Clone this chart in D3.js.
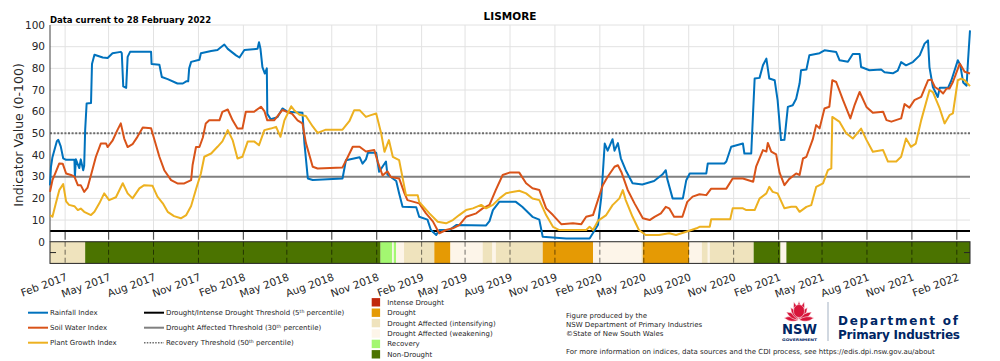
<!DOCTYPE html>
<html>
<head>
<meta charset="utf-8">
<script src="https://cdn.jsdelivr.net/npm/d3@7"></script>
<style>
    body { margin: 0; background: #fff; }
    svg { font-family: "DejaVu Sans", sans-serif; }
    .grid line { stroke: #e2e2e2; stroke-width: 1; }
    .tick-label { font-size: 10.5px; fill: #262626; }
    .legend-text { font-size: 7px; fill: #262626; }
</style>
</head>
<body>
<div id="chart"></div>
<script>
// index values (date, value 0-100)
const rainfallIndex = [
    ["2017-01-01",26],["2017-01-03",34.6],["2017-01-06",39],["2017-01-15",46.4],["2017-01-18",47],["2017-01-23",44],["2017-01-28",38.5],["2017-02-03",37.8],["2017-02-20",37.8],["2017-02-21",30],["2017-02-23",38],["2017-03-02",34],["2017-03-05",38],["2017-03-10",33],["2017-03-12",35],["2017-03-14",51.5],["2017-03-17",63.8],["2017-03-26",64],["2017-03-28",82],["2017-04-02",86.3],["2017-04-19",85],["2017-04-29",84.8],["2017-05-09",87],["2017-05-26",87.6],["2017-05-28",87],["2017-05-31",71.7],["2017-06-06",71],["2017-06-09",85.3],["2017-06-14",87.6],["2017-07-27",87.6],["2017-07-28",82],["2017-08-13",81.7],["2017-08-18",76],["2017-08-30",75],["2017-09-19",73],["2017-09-30",73],["2017-10-07",74],["2017-10-11",74],["2017-10-13",80],["2017-10-17",83],["2017-11-03",84],["2017-11-06",87],["2017-11-27",88],["2017-12-10",88.5],["2017-12-24",91],["2017-12-31",89],
    ["2018-01-17",86],["2018-01-24",85],["2018-02-03",88.5],["2018-03-02",89],["2018-03-05",92],["2018-03-08",89],["2018-03-12",80.6],["2018-03-17",77.6],["2018-03-21",80],["2018-03-22",59],["2018-03-29",56.5],["2018-04-12",57.5],["2018-04-22",61.5],["2018-05-02",60],["2018-06-02",59.5],["2018-06-06",45.5],["2018-06-13",29.2],["2018-06-23",28.5],["2018-08-23",29.2],["2018-08-30",37.6],["2018-09-27",39],["2018-10-03",36],["2018-10-10",38],["2018-10-14",41],["2018-10-31",41],["2018-11-06",32.3],["2018-11-20",37],["2018-11-23",31],["2018-12-11",28],["2018-12-17",22.3],["2018-12-24",16.1],
    ["2019-01-21",15.9],["2019-01-27",11.5],["2019-02-13",10.2],["2019-02-20",5.4],["2019-03-03",3.1],["2019-03-09",5.4],["2019-03-30",5.4],["2019-04-13",7.7],["2019-06-13",7.5],["2019-06-20",9.5],["2019-06-27",14.6],["2019-07-10",18.4],["2019-08-13",18.4],["2019-08-26",16.1],["2019-09-16",11.5],["2019-09-30",10.2],["2019-10-07",2.3],["2019-11-24",1.5],
    ["2020-01-11",1.5],["2020-01-18",4],["2020-01-28",7.7],["2020-02-04",20.7],["2020-02-11",45.3],["2020-02-17",42],["2020-02-27",47.3],["2020-03-02",42],["2020-03-09",45.5],["2020-03-15",38.5],["2020-03-25",33],["2020-04-08",27],["2020-04-28",26.4],["2020-05-22",28],["2020-06-08",31],["2020-06-15",33],["2020-06-18",29],["2020-06-29",20],["2020-07-20",20],["2020-07-27",28.4],["2020-08-03",31.5],["2020-09-06",31.5],["2020-09-09",36.1],["2020-10-13",36.1],["2020-10-17",37],["2020-10-27",43.8],["2020-11-20",45.3],["2020-11-23",40.7],["2020-12-07",40.7],["2020-12-11",60.7],["2020-12-14",75.3],["2020-12-24",75.6],["2020-12-31",81.4],
    ["2021-01-07",84.5],["2021-01-13",75.3],["2021-01-24",74.5],["2021-01-30",65.3],["2021-02-06",46.9],["2021-02-13",47],["2021-02-20",62.2],["2021-03-02",63],["2021-03-09",66],["2021-03-16",73],["2021-03-19",79.1],["2021-03-30",79.5],["2021-04-05",86],["2021-04-26",87],["2021-05-06",88.3],["2021-05-30",87.5],["2021-06-06",83.7],["2021-06-23",83],["2021-07-03",86.6],["2021-07-17",86.6],["2021-07-20",80.6],["2021-08-06",79.1],["2021-08-30",79.5],["2021-09-06",78.2],["2021-09-23",77.7],["2021-10-03",79],["2021-10-10",82.9],["2021-10-20",81.4],["2021-11-03",82.9],["2021-11-17",86],["2021-11-27",91.4],["2021-12-04",92.9],["2021-12-07",80.6],["2021-12-14",71.4],["2021-12-24",66.8],["2021-12-28",71],
    ["2022-01-14",71],["2022-01-21",74.5],["2022-02-03",83.7],["2022-02-08",81.6],["2022-02-14",73.5],["2022-02-21",72],["2022-02-24",83.7],["2022-02-28",97.5]
];

const soilWaterIndex = [
    ["2017-01-01",23],["2017-01-06",28.4],["2017-01-13",32.2],["2017-01-20",36.1],["2017-01-27",36],["2017-02-03",31.5],["2017-02-13",30.8],["2017-02-20",30],["2017-02-27",26.1],["2017-03-05",26.1],["2017-03-12",23],["2017-03-19",25],["2017-03-26",30.8],["2017-04-05",39.2],["2017-04-15",45.3],["2017-04-26",45.3],["2017-04-29",43.7],["2017-05-09",46.6],["2017-05-19",51.5],["2017-05-26",54.6],["2017-06-02",47.6],["2017-06-09",43.7],["2017-06-19",45],["2017-06-29",48.4],["2017-07-10",52.7],["2017-07-27",52.4],["2017-08-03",46.9],["2017-08-13",39.2],["2017-08-23",33],["2017-09-06",28.4],["2017-09-19",26.9],["2017-10-03",26.9],["2017-10-17",28.4],["2017-10-20",35.4],["2017-10-27",43.7],["2017-11-03",43.7],["2017-11-10",48.1],["2017-11-16",54.6],["2017-11-23",56],["2017-12-14",56],["2017-12-20",59.9],["2017-12-31",61],
    ["2018-01-10",56],["2018-01-20",52.2],["2018-01-30",52.2],["2018-02-06",60],["2018-02-23",60],["2018-03-09",62.3],["2018-03-16",60.3],["2018-03-22",56],["2018-04-05",56],["2018-04-22",60.8],["2018-05-12",59],["2018-05-23",56],["2018-06-02",54.6],["2018-06-09",45.6],["2018-06-23",34.6],["2018-07-03",33.8],["2018-08-23",34.3],["2018-09-03",39.2],["2018-09-13",43.8],["2018-09-27",43.8],["2018-10-10",41.6],["2018-10-27",42.3],["2018-11-03",37],["2018-11-13",30.6],["2018-11-23",32.5],["2018-11-30",29.9],["2018-12-17",29.2],["2018-12-28",22.3],
    ["2019-01-03",19.2],["2019-01-27",17.7],["2019-02-10",13.1],["2019-02-24",9.4],["2019-03-09",3.9],["2019-03-23",5.4],["2019-04-06",6.2],["2019-04-19",7.7],["2019-05-03",11.5],["2019-05-24",13.1],["2019-06-06",15.4],["2019-06-20",17],["2019-07-03",23.9],["2019-07-17",30.8],["2019-07-31",31.9],["2019-08-20",31.9],["2019-09-03",27],["2019-09-16",24.7],["2019-09-30",23.9],["2019-10-14",15.4],["2019-10-28",12.3],["2019-11-14",8.1],["2019-12-08",8.5],["2019-12-25",8.1],
    ["2020-01-04",11.5],["2020-01-18",12.3],["2020-01-28",19.2],["2020-02-07",26.1],["2020-02-17",30],["2020-03-02",34.6],["2020-03-09",35.3],["2020-03-16",32.2],["2020-03-29",23.9],["2020-04-12",17.7],["2020-04-29",10.8],["2020-05-13",10],["2020-05-23",11.5],["2020-06-05",13.1],["2020-06-15",16.1],["2020-06-22",15.4],["2020-07-02",11.5],["2020-07-19",11.5],["2020-07-29",18.4],["2020-08-09",20.8],["2020-08-23",21.9],["2020-09-06",21.5],["2020-09-16",24.5],["2020-10-17",24.5],["2020-10-30",29.2],["2020-11-20",29.2],["2020-12-11",27.7],["2020-12-17",34.6],["2020-12-31",42.3],
    ["2021-01-07",41.6],["2021-01-10",45.6],["2021-01-17",41.6],["2021-01-27",40.3],["2021-02-03",31.9],["2021-02-13",26.1],["2021-02-23",29],["2021-03-09",31.5],["2021-03-16",30.8],["2021-03-23",38.4],["2021-03-30",39.2],["2021-04-12",47.2],["2021-04-19",53.8],["2021-04-26",52.3],["2021-05-06",61.5],["2021-05-16",62.3],["2021-05-22",74.5],["2021-05-30",73.7],["2021-06-13",65.3],["2021-06-28",56.9],["2021-07-07",63.3],["2021-07-17",69.1],["2021-07-31",62.2],["2021-08-13",59.5],["2021-09-03",60],["2021-09-10",56.1],["2021-09-20",55.4],["2021-10-10",56.9],["2021-10-17",63.5],["2021-10-27",61.9],["2021-11-06",65.3],["2021-11-20",66.8],["2021-12-04",74.5],["2021-12-11",74.8],["2021-12-18",71.4],["2021-12-28",69.9],
    ["2022-01-04",68.4],["2022-01-11",70.7],["2022-01-17",70.7],["2022-01-24",73.7],["2022-02-07",82.2],["2022-02-17",78.4],["2022-02-28",77.6]
];

const plantGrowthIndex = [
    ["2017-01-01",12.3],["2017-01-06",11.5],["2017-01-13",17.7],["2017-01-20",23.8],["2017-01-28",26.6],["2017-02-03",18.6],["2017-02-09",17],["2017-02-20",16.4],["2017-02-27",14.6],["2017-03-05",15.3],["2017-03-12",13.8],["2017-03-26",12.3],["2017-04-02",13.8],["2017-04-12",17.7],["2017-04-22",22.3],["2017-05-02",19.2],["2017-05-16",20.5],["2017-05-30",27],["2017-06-09",22.3],["2017-06-19",20],["2017-07-03",24.6],["2017-07-13",26.1],["2017-07-30",25.8],["2017-08-09",20.8],["2017-08-20",17.7],["2017-08-30",13.8],["2017-09-12",11.8],["2017-09-26",10.8],["2017-10-07",12.3],["2017-10-17",16.5],["2017-10-27",24.2],["2017-11-06",31.5],["2017-11-13",39.2],["2017-11-27",40.7],["2017-12-10",43.8],["2017-12-20",46.3],["2017-12-31",51.5],
    ["2018-01-10",46.9],["2018-01-20",38.4],["2018-01-30",39.2],["2018-02-10",46.3],["2018-02-23",46.3],["2018-03-05",44.5],["2018-03-16",51.5],["2018-03-29",52.2],["2018-04-09",53],["2018-04-18",48.4],["2018-04-26",56],["2018-05-10",62.5],["2018-05-16",60.7],["2018-05-27",58.6],["2018-06-09",58],["2018-06-23",53.2],["2018-07-03",50.2],["2018-07-20",51.7],["2018-08-23",51.7],["2018-09-06",55.6],["2018-09-16",60.7],["2018-09-27",60.7],["2018-10-10",57.6],["2018-10-20",58.4],["2018-10-31",59.2],["2018-11-10",50.2],["2018-11-17",41.5],["2018-11-26",46.9],["2018-12-04",39.2],["2018-12-17",37.6],["2018-12-31",21.5],
    ["2019-01-24",21.5],["2019-01-27",18.4],["2019-02-17",13.1],["2019-03-06",9.2],["2019-03-23",8.5],["2019-04-06",10],["2019-04-19",12.3],["2019-05-03",14.6],["2019-05-17",15.4],["2019-06-03",17],["2019-06-13",15.4],["2019-06-27",17],["2019-07-10",19.9],["2019-07-24",22.4],["2019-08-20",23.5],["2019-09-03",22.3],["2019-09-16",19.9],["2019-09-30",19.2],["2019-10-14",12.3],["2019-10-28",6.9],["2019-11-10",5.4],
    ["2020-01-04",5.4],["2020-01-11",6.9],["2020-01-18",5.4],["2020-01-28",9.6],["2020-02-14",12.3],["2020-02-27",16.9],["2020-03-12",20],["2020-03-19",23.8],["2020-03-25",19.2],["2020-04-08",11.5],["2020-04-21",5.4],["2020-05-05",3.1],["2020-06-01",3.1],["2020-06-22",3.9],["2020-07-06",3.1],["2020-07-27",4.6],["2020-08-17",6.2],["2020-08-23",6.9],["2020-09-13",6.9],["2020-09-16",10.4],["2020-10-25",10.4],["2020-10-30",15.4],["2020-11-20",15.4],["2020-11-27",14.6],["2020-12-14",14.6],["2020-12-24",19.9],
    ["2021-01-07",22.3],["2021-01-13",25.3],["2021-01-20",23],["2021-01-30",22.3],["2021-02-13",15.4],["2021-02-27",16.1],["2021-03-09",16.1],["2021-03-16",13.8],["2021-03-30",16.1],["2021-04-09",16.9],["2021-04-19",25.3],["2021-05-03",26.9],["2021-05-13",33],["2021-05-20",33.8],["2021-05-22",57.6],["2021-06-06",55.3],["2021-06-19",50.2],["2021-07-03",47.6],["2021-07-20",52.2],["2021-07-31",47],["2021-08-13",41.5],["2021-09-03",42.3],["2021-09-13",37],["2021-09-30",37],["2021-10-10",39.2],["2021-10-20",47.6],["2021-10-30",43.8],["2021-11-09",45.3],["2021-11-20",56],["2021-12-07",69.9],["2021-12-14",69],["2021-12-28",61.5],
    ["2022-01-07",54.6],["2022-01-17",58.4],["2022-01-24",59.2],["2022-02-03",74.5],["2022-02-10",75.3],["2022-02-17",74.5],["2022-02-28",71.8]
];

// CDI phase strip: start, end, phase
const cdiPhases = [
    ["2017-01-01","2017-03-14","intensifying"],
    ["2017-03-14","2018-11-09","nonDrought"],
    ["2018-11-09","2018-12-03","recovery"],
    ["2018-12-03","2018-12-06","weakening"],
    ["2018-12-06","2018-12-11","recovery"],
    ["2018-12-11","2018-12-27","weakening"],
    ["2018-12-27","2019-02-27","intensifying"],
    ["2019-02-27","2019-04-01","drought"],
    ["2019-04-01","2019-06-06","weakening"],
    ["2019-06-06","2019-06-26","intensifying"],
    ["2019-06-26","2019-07-03","weakening"],
    ["2019-07-03","2019-10-07","intensifying"],
    ["2019-10-07","2020-01-18","drought"],
    ["2020-01-18","2020-04-26","weakening"],
    ["2020-04-26","2020-04-29","intensifying"],
    ["2020-04-29","2020-08-02","drought"],
    ["2020-08-02","2020-08-28","weakening"],
    ["2020-08-28","2020-09-09","intensifying"],
    ["2020-09-09","2020-09-13","weakening"],
    ["2020-09-13","2020-12-12","intensifying"],
    ["2020-12-12","2021-02-05","nonDrought"],
    ["2021-02-05","2021-02-17","weakening"],
    ["2021-02-17","2022-02-28","nonDrought"]
];

const phaseKeys = ["intense", "drought", "intensifying", "weakening", "recovery", "nonDrought"];
const phaseLabels = ["Intense Drought", "Drought", "Drought Affected (intensifying)", "Drought Affected (weakening)", "Recovery", "Non-Drought"];

const seriesLabels = ["Rainfall Index", "Soil Water Index", "Plant Growth Index"];

const xTickLabels = [
    "Feb 2017","May 2017","Aug 2017","Nov 2017",
    "Feb 2018","May 2018","Aug 2018","Nov 2018",
    "Feb 2019","May 2019","Aug 2019","Nov 2019",
    "Feb 2020","May 2020","Aug 2020","Nov 2020",
    "Feb 2021","May 2021","Aug 2021","Nov 2021",
    "Feb 2022"
];
const yTicks = [0, 10, 20, 30, 40, 50, 60, 70, 80, 90, 100];

const thresholds = [5, 30, 50];

const config = {
    width: 1000,
    height: 361,
    left: 50,
    right: 970,
    top: 25,
    bottom: 263.4,
    startDate: "2017-01-01",
    endDate: "2022-02-28",
}

const seriesColors = ["#0072bd", "#d95319", "#edb120"];
const phaseColors = {
    intense: "#c1270c",
    drought: "#e59a04",
    intensifying: "#efe3bd",
    weakening: "#fdf5e9",
    recovery: "#a3f771",
    nonDrought: "#4b7300",
}

const parseDate = d3.utcParse("%Y-%m-%d");
const parseTick = d3.utcParse("%b %Y");

const svg = d3.select('#chart')
    .append('svg')
    .attr('width', config.width)
    .attr('height', config.height)
;

const x = d3.scaleUtc()
    .domain([parseDate(config.startDate), parseDate(config.endDate)])
    .range([config.left, config.right])
;

const y = d3.scaleLinear()
    .domain([-10, 100])
    .range([config.bottom, config.top])
;

const tickDates = xTickLabels.map(parseTick);

// light grid in the index area
const grid = svg.append('g').attr('class', 'grid');
grid.selectAll('.hgrid')
    .data(yTicks.filter(v => v > 0))
    .enter()
    .append('line')
    .attr('x1', config.left)
    .attr('x2', config.right)
    .attr('y1', d => y(d))
    .attr('y2', d => y(d))
;
grid.selectAll('.vgrid')
    .data(tickDates)
    .enter()
    .append('line')
    .attr('x1', d => x(d))
    .attr('x2', d => x(d))
    .attr('y1', y(100))
    .attr('y2', y(5))
;

// threshold lines
svg.append('line')
    .attr('x1', config.left).attr('x2', config.right)
    .attr('y1', y(thresholds[2])).attr('y2', y(thresholds[2]))
    .attr('stroke', '#6e6e6e')
    .attr('stroke-width', 2)
    .attr('stroke-dasharray', '2,1.6')
;
svg.append('line')
    .attr('x1', config.left).attr('x2', config.right)
    .attr('y1', y(thresholds[1])).attr('y2', y(thresholds[1]))
    .attr('stroke', '#808080')
    .attr('stroke-width', 2)
;
svg.append('line')
    .attr('x1', config.left).attr('x2', config.right)
    .attr('y1', y(thresholds[0])).attr('y2', y(thresholds[0]))
    .attr('stroke', '#000')
    .attr('stroke-width', 2)
;

// phase strip
svg.selectAll('.phase')
    .data(cdiPhases)
    .enter()
    .append('rect')
    .attr('class', 'phase')
    .attr('x', d => x(parseDate(d[0])))
    .attr('y', y(0))
    .attr('width', d => x(parseDate(d[1])) - x(parseDate(d[0])))
    .attr('height', y(-10) - y(0))
    .attr('fill', d => phaseColors[d[2]])
;

// dashed ticks over the strip, solid ticks in the gap above it
svg.selectAll('.strip-grid')
    .data(tickDates)
    .enter()
    .append('line')
    .attr('x1', d => x(d))
    .attr('x2', d => x(d))
    .attr('y1', y(0))
    .attr('y2', y(-10))
    .attr('stroke', 'rgba(0,0,0,0.55)')
    .attr('stroke-width', 1)
    .attr('stroke-dasharray', '5,3')
;
svg.selectAll('.gap-tick')
    .data(tickDates)
    .enter()
    .append('line')
    .attr('x1', d => x(d))
    .attr('x2', d => x(d))
    .attr('y1', y(5) + 1)
    .attr('y2', y(0) - 2)
    .attr('stroke', '#555')
    .attr('stroke-width', 1.2)
;

svg.append('rect')
    .attr('x', config.left)
    .attr('y', y(0))
    .attr('width', config.right - config.left)
    .attr('height', y(-10) - y(0))
    .attr('fill', 'none')
    .attr('stroke', '#262626')
    .attr('stroke-width', 1)
;
svg.append('line')
    .attr('x1', config.left).attr('x2', config.left + 6)
    .attr('y1', y(-5)).attr('y2', y(-5))
    .attr('stroke', '#262626')
;
svg.append('line')
    .attr('x1', config.right - 6).attr('x2', config.right)
    .attr('y1', y(-5)).attr('y2', y(-5))
    .attr('stroke', '#262626')
;

// left axis line
svg.append('line')
    .attr('x1', config.left).attr('x2', config.left)
    .attr('y1', y(100)).attr('y2', y(0))
    .attr('stroke', '#404040')
    .attr('stroke-width', 1)
;

// index lines
const line = d3.line()
    .x(d => x(parseDate(d[0])))
    .y(d => y(d[1]))
;

[rainfallIndex, soilWaterIndex, plantGrowthIndex].forEach((series, i) => {
    svg.append('path')
        .attr('d', line(series))
        .attr('fill', 'none')
        .attr('stroke', seriesColors[i])
        .attr('stroke-width', 2)
        .attr('stroke-linejoin', 'round')
    ;
});

// y tick labels
svg.selectAll('.ylabel')
    .data(yTicks)
    .enter()
    .append('text')
    .attr('class', 'tick-label')
    .attr('x', config.left - 5)
    .attr('y', d => y(d))
    .attr('dy', '0.36em')
    .attr('text-anchor', 'end')
    .text(d => d)
;

// x tick labels, rotated
svg.selectAll('.xlabel')
    .data(xTickLabels)
    .enter()
    .append('text')
    .attr('class', 'tick-label')
    .attr('text-anchor', 'end')
    .attr('transform', (d, i) => `translate(${x(tickDates[i]) + 3}, 280) rotate(-20)`)
    .text(d => d)
;

svg.append('text')
    .attr('transform', 'translate(23, 135) rotate(-90)')
    .attr('text-anchor', 'middle')
    .attr('font-size', '12.5px')
    .attr('fill', '#262626')
    .text('Indicator Value (0-100)')
;

svg.append('text')
    .attr('x', 510)
    .attr('y', 20)
    .attr('text-anchor', 'middle')
    .attr('font-size', '10.5px')
    .attr('font-weight', 'bold')
    .attr('fill', '#000')
    .text('LISMORE')
;

svg.append('text')
    .attr('x', 50)
    .attr('y', 23)
    .attr('font-size', '8.5px')
    .attr('font-weight', 'bold')
    .attr('fill', '#000')
    .text('Data current to 28 February 2022')
;

// legend: index lines
const legendRows = [312.7, 327.7, 342.7];
seriesLabels.forEach((label, i) => {
    svg.append('line')
        .attr('x1', 28).attr('x2', 48)
        .attr('y1', legendRows[i]).attr('y2', legendRows[i])
        .attr('stroke', seriesColors[i])
        .attr('stroke-width', 2)
    ;
    svg.append('text')
        .attr('class', 'legend-text')
        .attr('x', 50)
        .attr('y', legendRows[i])
        .attr('dy', '0.35em')
        .text(label)
    ;
});

// legend: thresholds
const thresholdLegend = [
    {pre: "Drought/Intense Drought Threshold (5", post: " percentile)", color: "#000", dash: null},
    {pre: "Drought Affected Threshold (30", post: " percentile)", color: "#808080", dash: null},
    {pre: "Recovery Threshold (50", post: " percentile)", color: "#6e6e6e", dash: "1.5,1.3"},
];
thresholdLegend.forEach((item, i) => {
    svg.append('line')
        .attr('x1', 144).attr('x2', 164)
        .attr('y1', legendRows[i]).attr('y2', legendRows[i])
        .attr('stroke', item.color)
        .attr('stroke-width', item.dash ? 1.5 : 2)
        .attr('stroke-dasharray', item.dash)
    ;
    let t = svg.append('text')
        .attr('class', 'legend-text')
        .attr('x', 166)
        .attr('y', legendRows[i])
        .attr('dy', '0.35em')
    ;
    t.append('tspan').text(item.pre);
    t.append('tspan').attr('font-size', '4.6px').attr('dy', '-2.6').text('th');
    t.append('tspan').attr('dy', '2.6').text(item.post);
});

// legend: phase colours
phaseKeys.forEach((key, i) => {
    let cy = 302.3 + i * 10.4;
    svg.append('rect')
        .attr('x', 371.7)
        .attr('y', cy - 4.2)
        .attr('width', 8.4)
        .attr('height', 8.4)
        .attr('fill', phaseColors[key])
    ;
    svg.append('text')
        .attr('class', 'legend-text')
        .attr('x', 387.3)
        .attr('y', cy)
        .attr('dy', '0.35em')
        .text(phaseLabels[i])
    ;
});

// credits
["Figure produced by the", "NSW Department of Primary Industries", "\u00a9State of New South Wales"].forEach((s, i) => {
    svg.append('text')
        .attr('class', 'legend-text')
        .attr('x', 566)
        .attr('y', 317.6 + i * 9.4)
        .text(s)
    ;
});
svg.append('text')
    .attr('class', 'legend-text')
    .attr('x', 566)
    .attr('y', 354.2)
    .text('For more information on indices, data sources and the CDI process, see https://edis.dpi.nsw.gov.au/about')
;

// NSW logo (simplified waratah)
const logo = svg.append('g');
const petal = (len, w) => `M0,0 Q${w},${-len / 2} 0,${-len} Q${-w},${-len / 2} 0,0 Z`;
[-82, -58, -34, 34, 58, 82].forEach(a => {
    logo.append('path')
        .attr('d', petal(15, 4.5))
        .attr('transform', `translate(799,320) rotate(${a})`)
        .attr('fill', '#d7153a')
        .attr('stroke', '#fff')
        .attr('stroke-width', 0.5)
    ;
});
[-16, 0, 16].forEach(a => {
    logo.append('path')
        .attr('d', petal(19, 4.5))
        .attr('transform', `translate(799,320) rotate(${a})`)
        .attr('fill', '#d7153a')
        .attr('stroke', '#fff')
        .attr('stroke-width', 0.5)
    ;
});
logo.append('ellipse')
    .attr('cx', 799).attr('cy', 311)
    .attr('rx', 5.5).attr('ry', 6.5)
    .attr('fill', '#d7153a')
    .attr('stroke', '#fff')
    .attr('stroke-width', 0.5)
;
logo.append('text')
    .attr('x', 782).attr('y', 333.5)
    .attr('font-size', '14px')
    .attr('font-weight', 'bold')
    .attr('fill', '#002664')
    .attr('textLength', 35)
    .attr('lengthAdjust', 'spacingAndGlyphs')
    .text('NSW')
;
logo.append('text')
    .attr('x', 782).attr('y', 340.6)
    .attr('font-size', '3.6px')
    .attr('font-weight', 'bold')
    .attr('fill', '#002664')
    .attr('textLength', 35)
    .attr('lengthAdjust', 'spacingAndGlyphs')
    .text('GOVERNMENT')
;
logo.append('line')
    .attr('x1', 828).attr('x2', 828)
    .attr('y1', 302).attr('y2', 341)
    .attr('stroke', '#a3b1c2')
    .attr('stroke-width', 1)
;
logo.append('text')
    .attr('x', 838).attr('y', 325.3)
    .attr('font-size', '12px')
    .attr('font-weight', 'bold')
    .attr('fill', '#002664')
    .attr('textLength', 120)
    .text('Department of')
;
logo.append('text')
    .attr('x', 838).attr('y', 339)
    .attr('font-size', '12px')
    .attr('font-weight', 'bold')
    .attr('fill', '#002664')
    .attr('textLength', 122)
    .text('Primary Industries')
;
</script>
</body>
</html>
